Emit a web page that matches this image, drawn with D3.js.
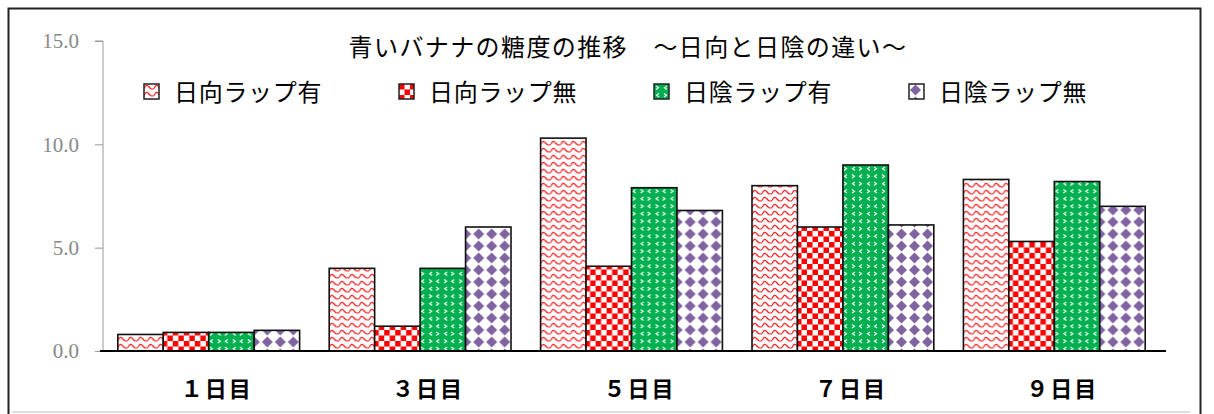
<!DOCTYPE html>
<html>
<head>
<meta charset="utf-8">
<script src="https://cdn.jsdelivr.net/npm/d3@7"></script>
<style>
  body { margin: 0; background: #fff; }
  svg { display: block; }
</style>
</head>
<body>
<svg id="canvas" width="1214" height="414"></svg>
<script>
const categories = ["１日目", "３日目", "５日目", "７日目", "９日目"];
const seriesNames = ["日向ラップ有", "日向ラップ無", "日陰ラップ有", "日陰ラップ無"];
const hinataWrap = [0.8, 4.0, 10.3, 8.0, 8.3];
const hinataNoWrap = [0.9, 1.2, 4.1, 6.0, 5.3];
const hikageWrap = [0.9, 4.0, 7.9, 9.0, 8.2];
const hikageNoWrap = [1.0, 6.0, 6.8, 6.1, 7.0];
const yTicks = [0, 5, 10, 15];
const title = "青いバナナの糖度の推移　～日向と日陰の違い～";

const series = [hinataWrap, hinataNoWrap, hikageWrap, hikageNoWrap];
const patternIds = ["pWave", "pCheck", "pChevron", "pDiamond"];

const svg = d3.select("#canvas");
const width = 1214;
const height = 414;
const plot = { left: 103, right: 1160, top: 41, bottom: 351 };
const jp = "'Noto Sans CJK JP', sans-serif";

// outer frame
svg.append("rect")
    .attr("x", 8.5).attr("y", 8.5)
    .attr("width", 1192).attr("height", 440)
    .attr("fill", "none")
    .attr("stroke", "#222")
    .attr("stroke-width", 2);
svg.append("line")
    .attr("x1", 12).attr("x2", 1190)
    .attr("y1", 412).attr("y2", 412)
    .attr("stroke", "#ddd")
    .attr("stroke-width", 2);

makePatterns(svg.append("defs"));

const x0 = d3.scaleBand()
    .domain(categories)
    .range([plot.left, plot.right])
    .paddingInner(0.14)
    .paddingOuter(0.07);

const x1 = d3.scaleBand()
    .domain(d3.range(series.length))
    .range([0, x0.bandwidth()]);

const y = d3.scaleLinear()
    .domain([0, 15])
    .range([plot.bottom, plot.top]);

// y axis
const yAxis = svg.append("g")
    .attr("transform", `translate(${plot.left},0)`)
    .call(d3.axisLeft(y).tickValues(yTicks).tickSize(8).tickPadding(16).tickFormat(d3.format(".1f")));
yAxis.select(".domain").attr("stroke", "#999").attr("d", `M-8,${y(15)}H0V${y(0)}`);
yAxis.selectAll(".tick line").attr("stroke", "#999");
yAxis.selectAll(".tick text")
    .attr("fill", "#888")
    .style("font-family", "'Liberation Serif', serif")
    .style("font-size", "21px");

// bars
const groups = svg.append("g")
    .selectAll("g")
    .data(categories)
    .join("g")
    .attr("transform", d => `translate(${x0(d)},0)`);

groups.selectAll("rect")
    .data((d, i) => series.map((s, k) => ({ k, v: s[i] })))
    .join("rect")
    .attr("x", d => x1(d.k))
    .attr("y", d => y(d.v))
    .attr("width", x1.bandwidth())
    .attr("height", d => y(0) - y(d.v))
    .attr("fill", d => `url(#${patternIds[d.k]})`)
    .attr("stroke", "#111")
    .attr("stroke-width", 1.6);

// x axis
svg.append("line")
    .attr("x1", plot.left - 3).attr("x2", 1166)
    .attr("y1", y(0)).attr("y2", y(0))
    .attr("stroke", "#000")
    .attr("stroke-width", 2);

svg.append("g")
    .selectAll("text")
    .data(categories)
    .join("text")
    .attr("x", d => x0(d) + x0.bandwidth() / 2 + 8)
    .attr("y", 397)
    .attr("text-anchor", "middle")
    .style("font-family", jp)
    .style("font-weight", "bold")
    .style("font-size", "22px")
    .style("letter-spacing", "2px")
    .text(d => d);

// title
svg.append("text")
    .attr("x", 628)
    .attr("y", 56)
    .attr("text-anchor", "middle")
    .style("font-family", jp)
    .style("font-size", "24px")
    .style("letter-spacing", "1.4px")
    .text(title);

// legend
const legend = svg.append("g")
    .selectAll("g")
    .data(seriesNames)
    .join("g")
    .attr("transform", (d, i) => `translate(${144 + i * 255},84)`);

legend.append("rect")
    .attr("width", 15).attr("height", 15)
    .attr("fill", (d, i) => `url(#${patternIds[i]})`)
    .attr("stroke", "#222")
    .attr("stroke-width", 1.5);

legend.append("text")
    .attr("x", 30)
    .attr("y", 17)
    .style("font-family", jp)
    .style("font-size", "24px")
    .style("letter-spacing", "0.7px")
    .text(d => d);

function makePatterns(defs) {
    // red zigzag waves
    const wave = defs.append("pattern")
        .attr("id", "pWave")
        .attr("patternUnits", "userSpaceOnUse")
        .attr("width", 10).attr("height", 7);
    wave.append("rect").attr("width", 10).attr("height", 7).attr("fill", "#fff");
    wave.append("path")
        .attr("d", "M0,4.5 C2,0.5 3,0.5 5,3 C7,5.5 8,5.5 10,4.5")
        .attr("fill", "none")
        .attr("stroke", "#ff2020")
        .attr("stroke-width", 1.3);

    // red/white checker
    const check = defs.append("pattern")
        .attr("id", "pCheck")
        .attr("patternUnits", "userSpaceOnUse")
        .attr("width", 11).attr("height", 11);
    check.append("rect").attr("width", 11).attr("height", 11).attr("fill", "#fff");
    check.append("rect").attr("width", 5.5).attr("height", 5.5).attr("fill", "#ff0000");
    check.append("rect").attr("x", 5.5).attr("y", 5.5).attr("width", 5.5).attr("height", 5.5).attr("fill", "#ff0000");

    // green with white chevrons
    const chev = defs.append("pattern")
        .attr("id", "pChevron")
        .attr("patternUnits", "userSpaceOnUse")
        .attr("width", 15).attr("height", 15);
    chev.append("rect").attr("width", 15).attr("height", 15).attr("fill", "#00b050");
    chev.append("path")
        .attr("d", "M2,2 L4.5,3.8 L2,5.6 M13,2 L10.5,3.8 L13,5.6 M5,9.5 L2.5,11.3 L5,13.1 M10,9.5 L12.5,11.3 L10,13.1")
        .attr("fill", "none")
        .attr("stroke", "#f4fff4")
        .attr("stroke-width", 1.2);

    // purple diamonds
    const dia = defs.append("pattern")
        .attr("id", "pDiamond")
        .attr("patternUnits", "userSpaceOnUse")
        .attr("width", 13).attr("height", 12);
    dia.append("rect").attr("width", 13).attr("height", 12).attr("fill", "#fff");
    dia.append("path")
        .attr("d", "M6.5,0.5 L12,6 L6.5,11.5 L1,6 Z")
        .attr("fill", "#8064a2");
}
</script>
</body>
</html>
